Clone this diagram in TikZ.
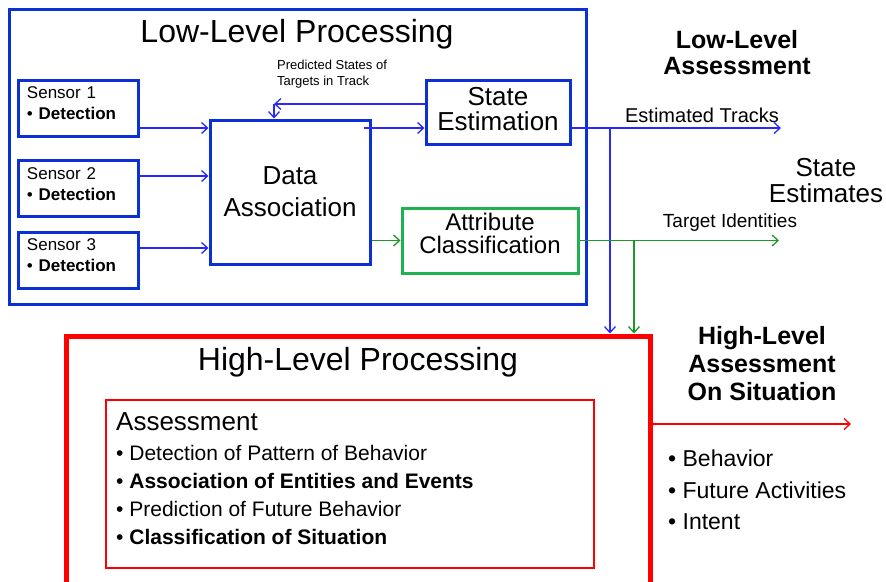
\documentclass[tikz,border=0pt]{standalone}
\usepackage{fontspec}
\setmainfont{Liberation Sans}
\usetikzlibrary{arrows.meta}
\definecolor{boxblue}{RGB}{10,48,214}
\definecolor{lineblue}{RGB}{40,40,255}
\definecolor{boxgreen}{RGB}{30,178,80}
\definecolor{linegreen}{RGB}{30,150,40}
\tikzset{
  lowbox/.style={draw=boxblue,line width=3pt,inner sep=0pt},
  sensorbox/.style={lowbox,minimum width=120,minimum height=56,
    text width=102,align=left,text depth=30pt,
    font=\fontsize{17}{21}\selectfont},
  highbox/.style={draw=red,inner sep=0pt},
  tip/.style={-{Straight Barb[length=6pt,width=11pt]}},
  barr/.style={tip,draw=lineblue,line width=1.3pt},
  garr/.style={tip,draw=linegreen,line width=1.3pt},
  rarr/.style={tip,draw=red,line width=1.3pt},
  heading/.style={font=\bfseries\fontsize{25}{26}\selectfont,align=center}
}
\begin{document}
\begin{tikzpicture}[x=1pt,y=-1pt]
  \clip (0,0) rectangle (886,581);

  % low-level processing
  \node[lowbox,minimum width=577,minimum height=295] (llp) at (297.5,156.5) {};
  \node[font=\fontsize{32}{36}\selectfont] (llptitle) at (297,34) {Low-Level Processing};

  \node[sensorbox] (s1) at (78,108) {Sensor 1\\\textbullet{} \textbf{Detection}};
  \node[sensorbox] (s2) at (78,188.5) {Sensor 2\\\textbullet{} \textbf{Detection}};
  \node[sensorbox] (s3) at (78,260) {Sensor 3\\\textbullet{} \textbf{Detection}};

  \node[lowbox,minimum width=160,minimum height=144,align=center,
    font=\fontsize{26}{32}\selectfont] (da) at (290,192) {Data\\Association};
  \node[lowbox,minimum width=144,minimum height=64,align=center,text depth=7pt,
    font=\fontsize{26}{25}\selectfont] (se) at (498,112) {State\\Estimation};
  \node[lowbox,draw=boxgreen,minimum width=176,minimum height=65,align=center,
    text depth=14pt,font=\fontsize{24}{23}\selectfont] (ac) at (490,240.5)
    {Attribute\\Classification};

  \node[align=left,font=\fontsize{13}{16}\selectfont] (pred) at (332,74)
    {Predicted States of\\Targets in Track};

  % high-level processing
  \node[highbox,line width=5pt,minimum width=584,minimum height=280] (hlp) at (358,476) {};
  \node[font=\fontsize{32}{36}\selectfont] (hlptitle) at (358,362) {High-Level Processing};
  \node[highbox,line width=2.5pt,minimum width=488,minimum height=168] (asmbox) at (350,484) {};
  \node[anchor=north west,align=left,inner sep=0pt,
    font=\fontsize{21}{28}\selectfont] (asm) at (116,412)
    {{\fontsize{26}{28}\selectfont Assessment}\\[2pt]
     \textbullet{} Detection of Pattern of Behavior\\
     \textbullet{} \textbf{Association of Entities and Events}\\
     \textbullet{} Prediction of Future Behavior\\
     \textbullet{} \textbf{Classification of Situation}};

  % assessments on the right
  \node[heading] (lla) at (737,53) {Low-Level\\Assessment};
  \node[align=center,font=\fontsize{26}{26}\selectfont] (stest) at (826,181)
    {State\\Estimates};
  \node[heading,font=\bfseries\fontsize{25}{28}\selectfont] (hla) at (762,364)
    {High-Level\\Assessment\\On Situation};
  \node[anchor=north west,align=left,inner sep=0pt,
    font=\fontsize{23}{31.5}\selectfont] (sit) at (668,450)
    {\textbullet{} Behavior\\\textbullet{} Future Activities\\\textbullet{} Intent};

  \node[font=\fontsize{20}{22}\selectfont] (ettext) at (702,115) {Estimated Tracks};
  \node[font=\fontsize{19}{22}\selectfont] (titext) at (730,223) {Target Identities};

  \coordinate (etend) at (781,128);
  \coordinate (tiend) at (779,240.5);
  \coordinate (bdown) at (610,0);
  \coordinate (gdown) at (634,0);
  \coordinate (hlaend) at (851,424);
  \coordinate (sey) at ([yshift=-16pt]se.center);
  \coordinate (fb) at ([xshift=-16pt,yshift=88pt]da.center);

  % connectors
  \draw[barr] ([yshift=-20pt]s1.east) coordinate (a1) -- (a1 -| da.west);
  \draw[barr] ([yshift=12.5pt]s2.east) coordinate (a2) -- (a2 -| da.west);
  \draw[barr] ([yshift=12pt]s3.east) coordinate (a3) -- (a3 -| da.west);
  \draw[barr] ([xshift=-8pt]sey -| da.east) -- (sey -| se.west);
  \draw[barr] (fb -| se.west) -- (fb);
  \draw[barr] (fb) -- (fb |- da.north);
  \draw[garr] (da.east |- ac.west) -- (ac.west);
  \draw[barr] (sey -| se.east) -- (sey -| etend);
  \draw[barr] (sey -| bdown) -- (bdown |- hlp.north);
  \draw[garr] (ac.east) -- (tiend);
  \draw[garr] (ac.east -| gdown) -- (gdown |- hlp.north);
  \draw[rarr] (hlaend -| hlp.east) -- (hlaend);
\end{tikzpicture}
\end{document}
